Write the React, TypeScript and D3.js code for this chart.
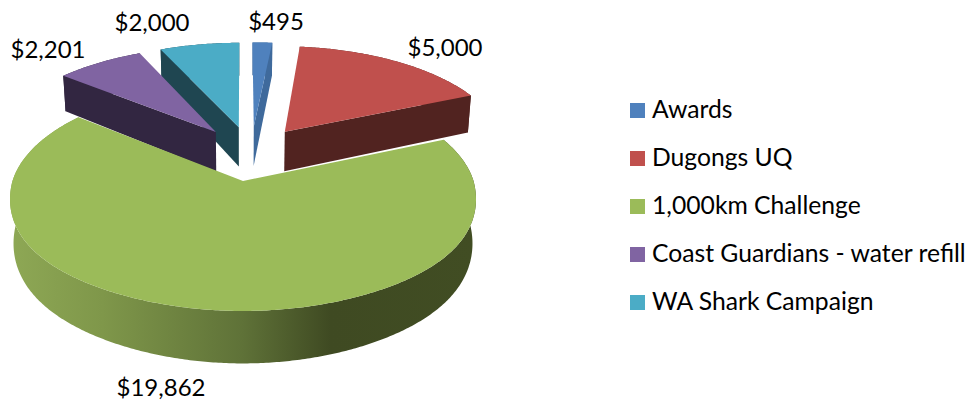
import React from "react";
import * as d3 from "d3";

const categories = ["Awards", "Dugongs UQ", "1,000km Challenge", "Coast Guardians - water refill", "WA Shark Campaign"];
const values = [495, 5000, 19862, 2201, 2000];
const topColors = ["#4f81bd", "#c0504d", "#9bbb59", "#8064a2", "#4bacc6"];
const wallColors = ["#3f6a9c", "#512320", "#3f4a22", "#322641", "#1f4651"];

const labelCenters: [number, number][] = [[276, 30], [445, 56], [161, 396], [48, 58], [152, 31]];
const drawOrder = [4, 3, 1, 0, 2];
const greenWall: [number, string][] = [[0, "#8ea855"], [0.2, "#7f974a"], [0.5, "#5f7238"], [0.69, "#3f4a22"], [1, "#414d23"]];

const FONT = "Lato, 'Open Sans', sans-serif";
const FS = 24;
const LEGEND_FS = 24.7;
const cx = 243, cy = 181;
const A = 111, B = 230.5, K = 0.146, M = 0.015, H = 44, HQ = 0.08, BULGE = 12;
const EXPLODE = 0.265;
const REF = 2;

function project(x: number, y: number, z: number): [number, number] {
  const w = 1 - K * y + M * z;
  const bulge = y > 0 ? BULGE * Math.pow(x, 4) * y : 0;
  return [cx + (B * x) / w, cy + bulge + (A * y + H * (1 + HQ * y) * z) / w];
}

const dirOf = (a: number): [number, number] => [Math.sin(a), -Math.cos(a)];

export default function App() {
  const arcs = d3.pie<number>().sort(null).value((d) => d)(values);
  const line = d3.line();
  const xGrad = d3.scaleLinear().domain([0, 1]).range([9, 475]);
  const refMid = (arcs[REF].startAngle + arcs[REF].endAngle) / 2;
  const refDir = dirOf(refMid);

  const slices = arcs.map((a, i) => {
    const mid = (a.startAngle + a.endAngle) / 2;
    const md = dirOf(mid);
    const ox = EXPLODE * (md[0] - refDir[0]);
    const oy = EXPLODE * (md[1] - refDir[1]);
    const n = Math.max(8, Math.ceil((a.endAngle - a.startAngle) / 0.01));
    const ang = d3.range(n + 1).map((t) => a.startAngle + ((a.endAngle - a.startAngle) * t) / n);
    const rim = ang.map((t) => { const d = dirOf(t); return [ox + d[0], oy + d[1]] as [number, number]; });
    const topPts = [[ox, oy], ...rim].map((p) => project(p[0], p[1], 0));
    const band = [
      ...rim.map((p) => project(p[0], p[1], 0)),
      ...rim.slice().reverse().map((p) => project(p[0], p[1], 1)),
    ];
    const walls: [number, number][][] = [];
    [a.startAngle, a.endAngle].forEach((t) => {
      const d = dirOf(t);
      // outward normal of the cut, pointing away from the slice interior
      let nx = -d[1], ny = d[0];
      if (nx * md[0] + ny * md[1] > 0) { nx = -nx; ny = -ny; }
      if (ny > 0.01) {
        const e = [ox + d[0], oy + d[1]];
        walls.push([project(ox, oy, 0), project(e[0], e[1], 0), project(e[0], e[1], 1), project(ox, oy, 1)]);
      }
    });
    return { i, topPts, band, walls };
  });

  return (
    <svg width={972} height={400} style={{ position: "absolute", left: 0, top: 0, background: "#fff" }} fontFamily={FONT}>
      <defs>
        <linearGradient id="greenSide" gradientUnits="userSpaceOnUse" x1={xGrad(0)} x2={xGrad(1)} y1={0} y2={0}>
          {greenWall.map(([o, c]) => <stop key={o} offset={o} stopColor={c} />)}
        </linearGradient>
      </defs>
      {drawOrder.map((k) => {
        const s = slices[k];
        return (
          <g key={k}>
            <path d={line(s.band) + "Z"} fill={k === REF ? "url(#greenSide)" : wallColors[k]} />
            {s.walls.map((w, j) => <path key={j} d={line(w) + "Z"} fill={wallColors[k]} />)}
            <path d={line(s.topPts) + "Z"} fill={topColors[k]} />
          </g>
        );
      })}
      {values.map((v, i) => (
        <text key={i} x={labelCenters[i][0]} y={labelCenters[i][1]} textAnchor="middle" fontSize={FS} fill="#000">
          {d3.format("$,")(v)}
        </text>
      ))}
      {categories.map((c, i) => (
        <g key={c}>
          <rect x={630} y={103 + i * 48} width={15} height={15} fill={topColors[i]} />
          <text x={652} y={118 + i * 48} fontSize={LEGEND_FS} fill="#000">{c}</text>
        </g>
      ))}
    </svg>
  );
}
